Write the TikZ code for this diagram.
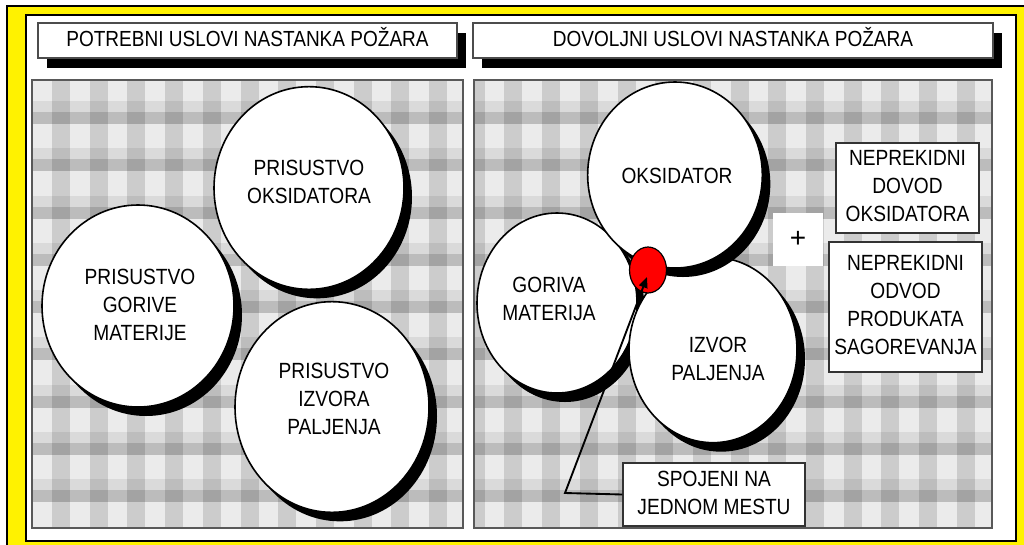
\documentclass[tikz,border=0pt]{standalone}
\usepackage{fontspec}
\usepackage{graphicx}
\setmainfont{Liberation Sans}
\usetikzlibrary{shapes.geometric,shadows,arrows.meta}
% narrow lettering, one or more lines
\newcommand\uski[1]{\scalebox{0.87}[1]{\begin{tabular}{@{}c@{}}#1\end{tabular}}}

\begin{document}
\begin{tikzpicture}[x=0.75pt,y=0.75pt,yscale=-1,xscale=1,
  tekst/.style={font=\fontsize{16.5}{21}\selectfont,inner sep=0pt},
  krug/.style={ellipse,draw=black,line width=1.2pt,fill=white,inner sep=0pt,
    drop shadow={shadow xshift=6pt,shadow yshift=-6.75pt,opacity=1,fill=black}},
  naslov/.style={rectangle,draw=black!70,line width=1pt,fill=white,inner sep=0pt,
    font=\fontsize{16.4}{20}\selectfont,
    drop shadow={shadow xshift=6.75pt,shadow yshift=-7.5pt,opacity=1,fill=black}},
  okvir/.style={rectangle,draw=black!80,line width=1pt,fill=white,inner sep=0pt,
    font=\fontsize{16.5}{21}\selectfont}]
\clip (0,0) rectangle (1024,544);

%Frame
\draw[line width=1.2pt,fill=yellow] (7,6) rectangle (1040,560);
\draw[line width=1.2pt,fill=white] (26,15) rectangle (1016,541);

%Headers
\node[naslov,minimum width=314.25pt,minimum height=26.25pt] (potrebni) at (247.5,40.5) {\uski{POTREBNI USLOVI NASTANKA POŽARA}};
\node[naslov,minimum width=390pt,minimum height=26.25pt] (dovoljni) at (733,40.5) {\uski{DOVOLJNI USLOVI NASTANKA POŽARA}};

%Checkered background of both panels
\begin{scope}
\clip (32,80) rectangle (463,528) (474,80) rectangle (992,528);
\fill[black!8] (32,80) rectangle (992,528);
\foreach \i in {0,...,26} {
  \fill[black,opacity=0.13] (14.3+37.7*\i,80) rectangle ++(18,448);
}
\foreach \j in {0,...,11} {
  \fill[black,opacity=0.07] (32,6.3+47.3*\j) rectangle ++(960,11);
  \fill[black,opacity=0.2] (32,17.3+47.3*\j) rectangle ++(960,12);
}
\end{scope}
\draw[black!65,line width=1.2pt] (32,80) rectangle (463,528);
\draw[black!65,line width=1.2pt] (474,80) rectangle (992,528);

%Left panel: circles
\node[krug,minimum width=144pt,minimum height=151.5pt] (gorive) at (138,306) {};
\node[krug,minimum width=142.5pt,minimum height=152pt] (oksidatora) at (309,188) {};
\node[krug,minimum width=145.5pt,minimum height=158pt] (izvora) at (332,407) {};
% Text Node
\node[tekst] (t-oksidatora) at (309,184) {\uski{PRISUSTVO\\OKSIDATORA}};
\node[tekst] (t-gorive) at (140,307) {\uski{PRISUSTVO\\GORIVE\\MATERIJE}};
\node[tekst] (t-izvora) at (334,401) {\uski{PRISUSTVO\\IZVORA\\PALJENJA}};

%Right panel: circles
\node[krug,minimum width=120pt,minimum height=135pt] (goriva) at (557,303) {};
\node[krug,minimum width=126pt,minimum height=139pt] (izvor) at (713,350) {};
\node[krug,minimum width=131pt,minimum height=139.5pt] (oksidator) at (675,175) {};
\node[ellipse,draw=black,line width=0.9pt,fill=red,minimum width=27.75pt,minimum height=34.5pt] (spoj) at (648,270) {};
% Text Node
\node[tekst] (t-oksidator) at (677,178) {\uski{OKSIDATOR}};
\node[tekst] (t-goriva) at (549,301) {\uski{GORIVA\\MATERIJA}};
\node[tekst] (t-izvor) at (718,361) {\uski{IZVOR\\PALJENJA}};

%Boxes on the right
\node[okvir,draw=none,minimum width=37.5pt,minimum height=39.75pt,font=\fontsize{21}{24}\selectfont] (plus) at (798,239.5) {+};
\node[okvir,minimum width=107.25pt,minimum height=67.5pt] (dovod) at (907.5,188) {\uski{NEPREKIDNI\\DOVOD\\OKSIDATORA}};
\node[okvir,minimum width=114.75pt,minimum height=97.5pt] (odvod) at (905.5,307) {\uski{NEPREKIDNI\\ODVOD\\PRODUKATA\\SAGOREVANJA}};
\node[okvir,minimum width=136.5pt,minimum height=47.25pt] (jednom) at (714,494.5) {\uski{SPOJENI NA\\JEDNOM MESTU}};

%Pointer to the joint point
\coordinate (lom) at (565,493);
\coordinate (vrh) at (647,277);
\draw[line width=1.4pt,-{Triangle[length=8pt,width=6.5pt]}] (jednom.west) -- (lom) -- (vrh);

\end{tikzpicture}
\end{document}
